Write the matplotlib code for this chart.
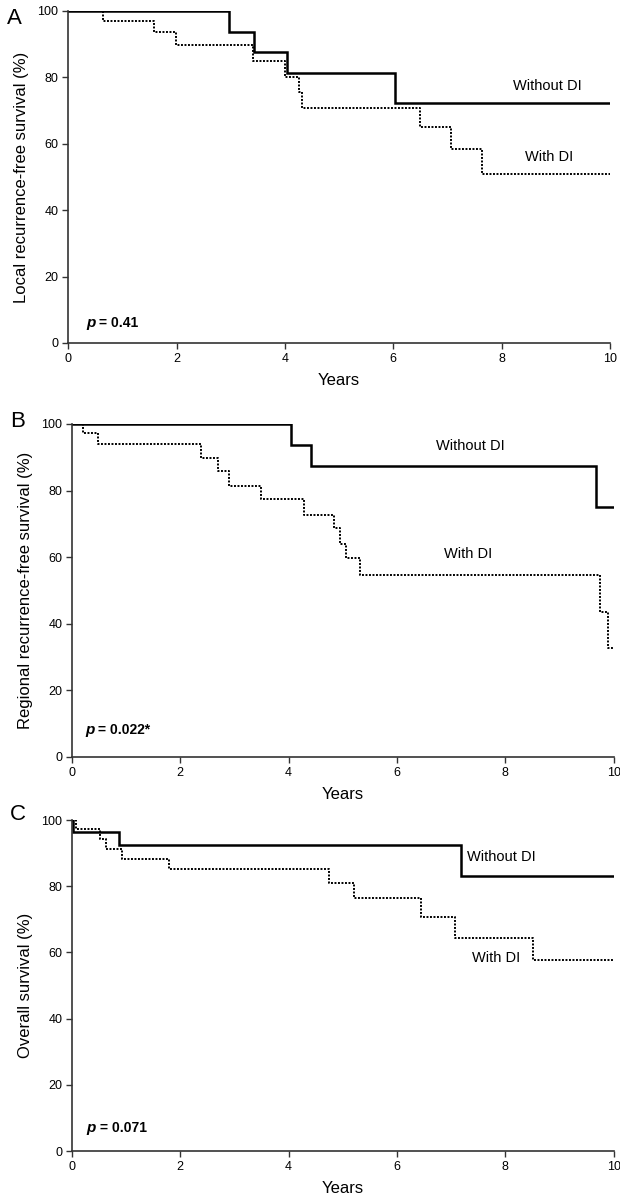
import matplotlib
matplotlib.use('Agg')
import matplotlib.pyplot as plt

plt.rcParams['font.family'] = ['Liberation Sans', 'DejaVu Sans']

# panel A - local recurrence-free survival
a_without_t = [2.97, 3.43, 4.03, 6.03]
a_without_s = [93.75, 87.5, 81.25, 72.2]
a_with_t = [0.64, 1.58, 1.99, 3.41, 4.01, 4.26, 4.31, 6.49, 7.07, 7.64]
a_with_s = [96.9, 93.6, 89.7, 84.8, 80.2, 75.6, 70.8, 64.9, 58.4, 51.0]

# panel B - regional recurrence-free survival
b_without_t = [4.05, 4.41, 9.67]
b_without_s = [93.75, 87.5, 75.0]
b_with_t = [0.21, 0.49, 2.38, 2.69, 2.89, 3.49, 4.29, 4.83, 4.94, 5.06, 5.32, 9.74, 9.89]
b_with_s = [97.2, 94.0, 89.9, 86.0, 81.4, 77.4, 72.8, 68.8, 64.1, 59.6, 54.6, 43.6, 32.8]

# panel C - overall survival
c_without_t = [0.02, 0.87, 7.18]
c_without_s = [96.4, 92.5, 83.1]
c_with_t = [0.07, 0.52, 0.63, 0.93, 1.80, 4.75, 5.20, 6.45, 7.07, 8.50]
c_with_s = [97.2, 94.2, 91.3, 88.3, 85.1, 81.1, 76.6, 70.7, 64.3, 57.7]

panels = [
    ('A', 'Local recurrence-free survival (%)', 'p', ' = 0.41',
     a_without_t, a_without_s, a_with_t, a_with_s,
     (8.85, 77.3), (8.88, 56.0), (0.33, 6.0),
     [0.110, 0.7142, 0.874, 0.2767], (0.012, 0.985)),
    ('B', 'Regional recurrence-free survival (%)', 'p', ' = 0.022*',
     b_without_t, b_without_s, b_with_t, b_with_s,
     (7.35, 93.4), (7.32, 60.9), (0.24, 8.0),
     [0.116, 0.3692, 0.874, 0.2775], (0.016, 0.649)),
    ('C', 'Overall survival (%)', 'p', ' = 0.071',
     c_without_t, c_without_s, c_with_t, c_with_s,
     (7.93, 88.7), (7.82, 58.4), (0.27, 7.1),
     [0.116, 0.0408, 0.874, 0.2758], (0.016, 0.321)),
]

fig = plt.figure(figsize=(6.2, 12), dpi=100)

for (letter, ylab, pch, ptxt, wo_t, wo_s, w_t, w_s,
     wo_pos, w_pos, p_pos, rect, let_pos) in panels:
    ax = fig.add_axes(rect)
    # step curves, holding last value out to 10 years
    ax.step([0] + wo_t + [10], [100] + wo_s + [wo_s[-1]], where='post',
            color='black', lw=1.8, solid_joinstyle='miter')
    ax.step([0] + w_t + [10], [100] + w_s + [w_s[-1]], where='post',
            color='black', lw=1.4, linestyle=(0, (1, 0.8)))

    ax.set_xlim(0, 10)
    ax.set_ylim(0, 100)
    ax.set_xticks([0, 2, 4, 6, 8, 10])
    ax.set_yticks([0, 20, 40, 60, 80, 100])
    ax.spines['top'].set_visible(False)
    ax.spines['right'].set_visible(False)
    for s in ['left', 'bottom']:
        ax.spines[s].set_linewidth(1.2)
        ax.spines[s].set_color('#333333')
    ax.tick_params(direction='out', length=4, width=1, labelsize=9,
                   color='#333333', pad=3)
    ax.set_xlabel('Years', fontsize=12, labelpad=6)
    ax.set_ylabel(ylab, fontsize=12, labelpad=6)

    ax.text(wo_pos[0], wo_pos[1], 'Without DI', fontsize=10.5,
            ha='center', va='center')
    ax.text(w_pos[0], w_pos[1], 'With DI', fontsize=10.5,
            ha='center', va='center')

    t = ax.text(p_pos[0], p_pos[1], pch, fontsize=11, fontweight='bold',
                style='italic', ha='left', va='center')
    ax.annotate(ptxt, xy=(1, 0.5), xycoords=t, fontsize=10,
                fontweight='bold', ha='left', va='center')

    fig.text(let_pos[0], let_pos[1], letter, fontsize=16, ha='left', va='center')

plt.savefig('out.png', dpi=100)
